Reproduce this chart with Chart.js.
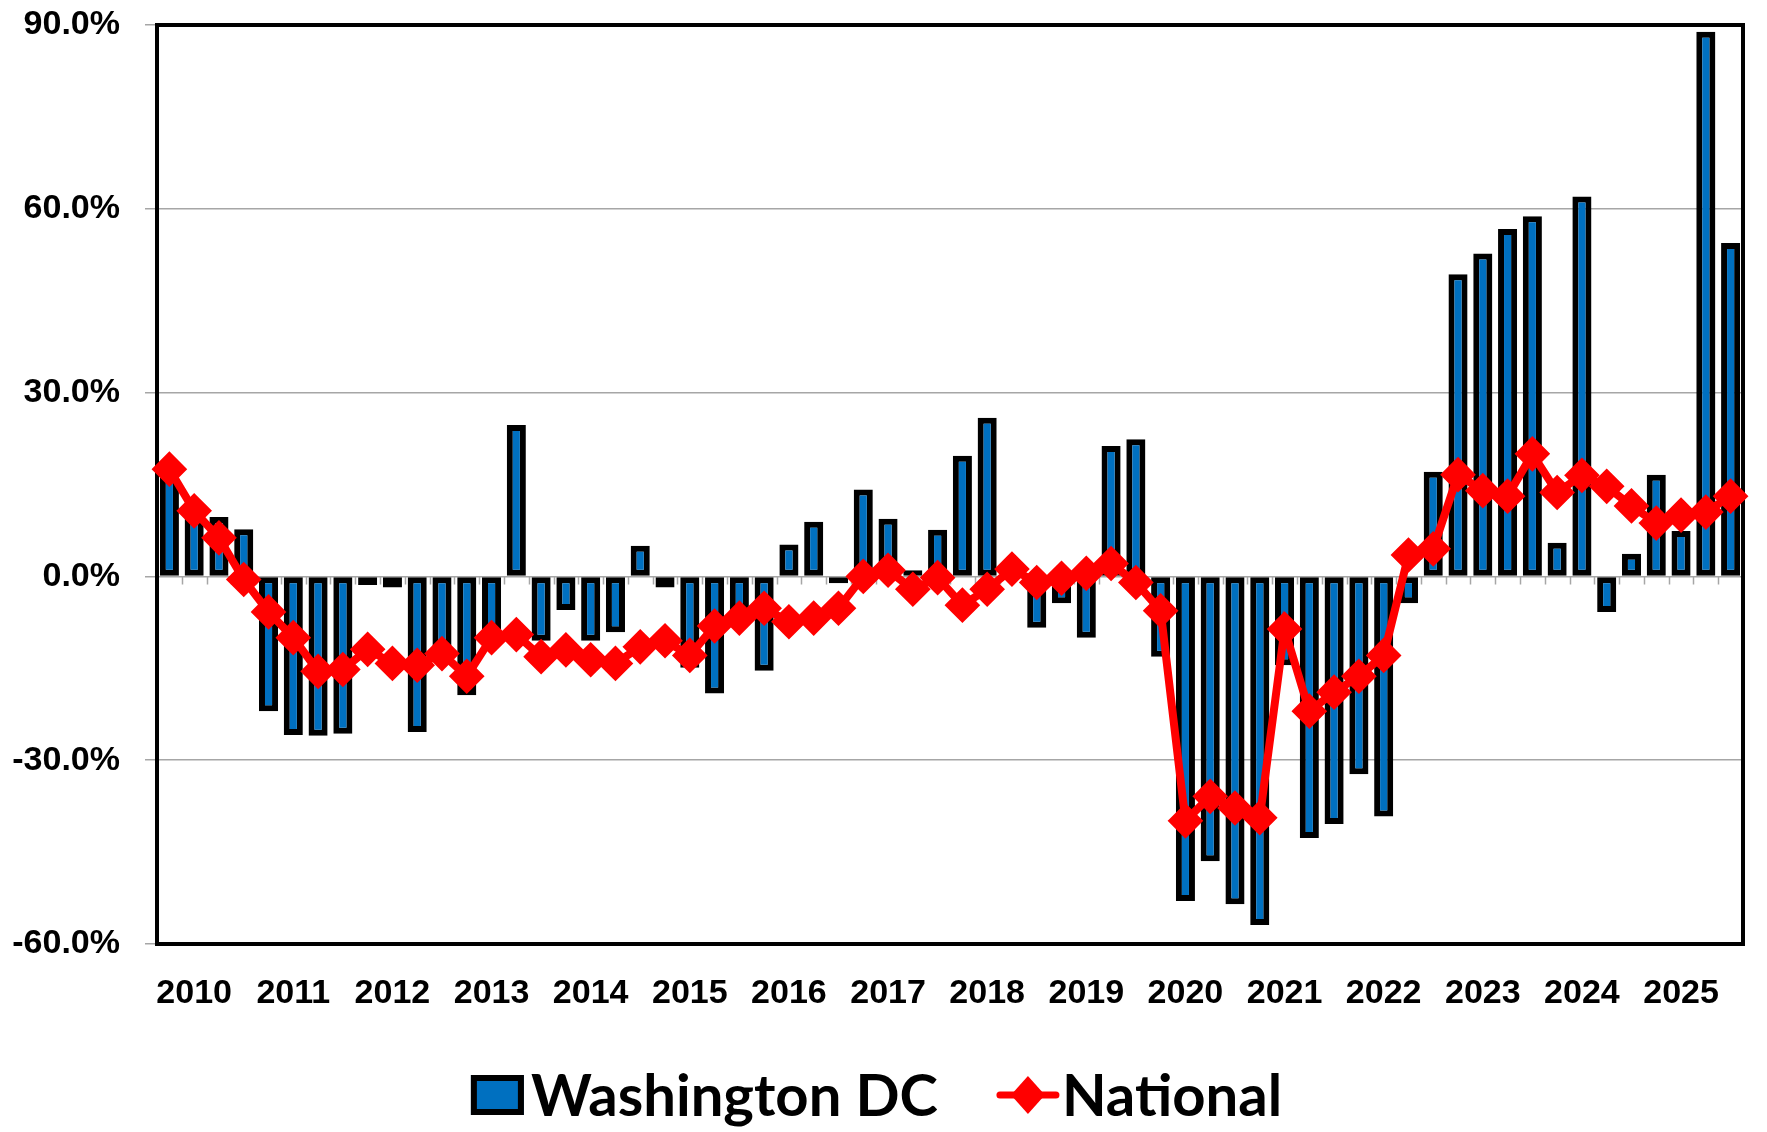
<!DOCTYPE html>
<html>
<head>
<meta charset="utf-8">
<title>Washington DC vs National</title>
<script src="https://cdn.jsdelivr.net/npm/chart.js@4.4.1/dist/chart.umd.min.js"></script>
<style>
  html, body { margin: 0; padding: 0; background: #fff; }
  #wrap { width: 1767px; height: 1132px; }
</style>
</head>
<body>
<div id="wrap"><canvas id="chart" width="1767" height="1132"></canvas></div>
<script>
// ================= Data =================
const categories = [
  '2009 Q4',
  '2010 Q1', '2010 Q2', '2010 Q3', '2010 Q4',
  '2011 Q1', '2011 Q2', '2011 Q3', '2011 Q4',
  '2012 Q1', '2012 Q2', '2012 Q3', '2012 Q4',
  '2013 Q1', '2013 Q2', '2013 Q3', '2013 Q4',
  '2014 Q1', '2014 Q2', '2014 Q3', '2014 Q4',
  '2015 Q1', '2015 Q2', '2015 Q3', '2015 Q4',
  '2016 Q1', '2016 Q2', '2016 Q3', '2016 Q4',
  '2017 Q1', '2017 Q2', '2017 Q3', '2017 Q4',
  '2018 Q1', '2018 Q2', '2018 Q3', '2018 Q4',
  '2019 Q1', '2019 Q2', '2019 Q3', '2019 Q4',
  '2020 Q1', '2020 Q2', '2020 Q3', '2020 Q4',
  '2021 Q1', '2021 Q2', '2021 Q3', '2021 Q4',
  '2022 Q1', '2022 Q2', '2022 Q3', '2022 Q4',
  '2023 Q1', '2023 Q2', '2023 Q3', '2023 Q4',
  '2024 Q1', '2024 Q2', '2024 Q3', '2024 Q4',
  '2025 Q1', '2025 Q2', '2025 Q3'
];

// Washington DC, % change
const dcValues = [
  18.0, 11.5, 9.7, 7.7, -22.0, -25.9, -26.0, -25.7,
  -1.4, -1.8, -25.4, -13.0, -19.4, -10.0, 24.7, -10.5,
  -5.5, -10.5, -9.1, 5.0, -1.8, -14.9, -19.1, -7.0,
  -15.4, 5.2, 8.9, -1.1, 14.2, 9.4, 1.0, 7.6,
  19.7, 25.9, 0.8, -8.4, -4.4, -10.0, 21.3, 22.4,
  -13.1, -53.0, -46.5, -53.5, -56.9, -14.5, -42.7, -40.4,
  -32.3, -39.2, -4.4, 17.1, 49.3, 52.7, 56.7, 58.8,
  5.5, 62.0, -5.8, 3.7, 16.6, 7.4, 88.9, 54.4
];

// National, % change
const nationalValues = [
  17.5, 10.7, 6.3, -0.5, -5.8, -10.0, -15.5, -15.2,
  -11.9, -14.2, -14.5, -12.6, -16.3, -10.0, -9.5, -13.1,
  -12.0, -13.6, -14.2, -11.5, -10.5, -12.9, -8.1, -6.8,
  -5.2, -7.4, -6.8, -5.2, 0.0, 1.0, -2.1, -0.2,
  -4.7, -2.1, 1.2, -1.0, -0.3, 0.5, 2.1, -1.0,
  -5.6, -39.9, -35.9, -37.8, -39.4, -8.6, -22.0, -18.9,
  -16.3, -12.9, 3.5, 4.5, 16.6, 14.0, 13.1, 20.0,
  13.7, 16.5, 14.7, 11.5, 8.7, 10.0, 10.5, 13.1
];

const yTicks = [-60, -30, 0, 30, 60, 90];

const DC_BLUE = '#0070C0';
const NAT_RED = '#FF0000';
const GRID_GRAY = '#a6a6a6';
const TICK_FONT = { family: '"Liberation Sans", Arial, sans-serif', size: 34, weight: 'bold' };

// ================= Plugins =================
// plot frame + small gray marks on the zero line
const framePlugin = {
  id: 'frame',
  beforeDatasetsDraw(chart) {
    const { ctx, chartArea: a, scales: { x, y } } = chart;
    const y0 = y.getPixelForValue(0);
    ctx.save();
    ctx.strokeStyle = GRID_GRAY;
    ctx.lineWidth = 1.5;
    ctx.beginPath();
    for (let i = 0; i <= categories.length; i++) {
      const px = Math.round(x.getPixelForValue(i - 0.5)) + 0.5;
      ctx.moveTo(px, y0);
      ctx.lineTo(px, y0 + 8);
    }
    ctx.stroke();

    ctx.strokeStyle = '#000';
    ctx.lineWidth = 4;
    ctx.strokeRect(a.left, a.top, a.right - a.left, a.bottom - a.top);
    ctx.restore();
  }
};

// legend under the axis: blue box for the bars, red line + diamond for the line
const legendPlugin = {
  id: 'bottomLegend',
  afterDraw(chart) {
    const { ctx } = chart;
    const dc = chart.data.datasets.find(d => d.type === 'bar');
    const nat = chart.data.datasets.find(d => d.type === 'line');
    ctx.save();
    ctx.font = 'bold 58px Lato, "Liberation Sans", sans-serif';
    ctx.textBaseline = 'alphabetic';
    const w1 = ctx.measureText(dc.label).width;
    const w2 = ctx.measureText(nat.label).width;
    const boxW = 53, boxH = 40, markW = 62;
    const total = boxW + 7 + w1 + 59 + markW + 3 + w2;
    let x = chart.width / 2 - 7 - total / 2;
    const midY = 1095, baseY = 1116;

    ctx.fillStyle = dc.backgroundColor;
    ctx.fillRect(x, midY - boxH / 2, boxW, boxH);
    ctx.strokeStyle = '#000';
    ctx.lineWidth = 6;
    ctx.strokeRect(x + 3, midY - boxH / 2 + 3, boxW - 6, boxH - 6);
    x += boxW + 7;
    ctx.fillStyle = '#000';
    ctx.fillText(dc.label, x, baseY);
    x += w1 + 59;

    ctx.strokeStyle = nat.borderColor;
    ctx.lineWidth = 7;
    ctx.lineCap = 'round';
    ctx.beginPath();
    ctx.moveTo(x + 3, midY);
    ctx.lineTo(x + markW - 3, midY);
    ctx.stroke();
    const cx = x + markW / 2;
    ctx.fillStyle = nat.borderColor;
    ctx.beginPath();
    ctx.moveTo(cx - 17, midY);
    ctx.lineTo(cx, midY - 19);
    ctx.lineTo(cx + 17, midY);
    ctx.lineTo(cx, midY + 19);
    ctx.closePath();
    ctx.fill();
    x += markW + 3;
    ctx.fillStyle = '#000';
    ctx.fillText(nat.label, x, baseY);
    ctx.restore();
  }
};

// ================= Chart =================
const ctx = document.getElementById('chart').getContext('2d');
const chart = new Chart(ctx, {
  data: {
    labels: categories,
    datasets: [
      {
        type: 'line',
        label: 'National',
        data: nationalValues,
        borderColor: NAT_RED,
        backgroundColor: NAT_RED,
        borderWidth: 8,
        tension: 0,
        pointStyle: 'rectRot',
        pointRadius: 15,
        pointBorderWidth: 4,
        pointBackgroundColor: NAT_RED,
        pointBorderColor: NAT_RED,
        clip: false,
        order: 1
      },
      {
        type: 'bar',
        label: 'Washington DC',
        data: dcValues,
        backgroundColor: DC_BLUE,
        borderColor: '#000',
        borderWidth: 6,
        borderSkipped: false,
        barPercentage: 0.77,
        categoryPercentage: 1,
        order: 2
      }
    ]
  },
  options: {
    responsive: false,
    animation: false,
    devicePixelRatio: 1,
    layout: { padding: { top: 25, right: 24, left: 0, bottom: 0 } },
    plugins: {
      legend: { display: false },
      tooltip: { enabled: false }
    },
    scales: {
      x: {
        grid: { display: false, drawTicks: false },
        border: { display: false },
        ticks: {
          autoSkip: false,
          maxRotation: 0,
          padding: 29,
          color: '#000',
          font: TICK_FONT,
          callback: (v, i) => categories[i].endsWith('Q1') ? categories[i].slice(0, 4) : ''
        },
        afterFit: (scale) => { scale.height = 188; }
      },
      y: {
        min: yTicks[0],
        max: yTicks[yTicks.length - 1],
        grid: { color: GRID_GRAY, lineWidth: 1.5, drawTicks: true, tickLength: 12, tickColor: GRID_GRAY },
        border: { display: false },
        ticks: {
          stepSize: yTicks[1] - yTicks[0],
          padding: 25,
          color: '#000',
          font: TICK_FONT,
          callback: (v) => v.toFixed(1) + '%'
        },
        afterFit: (scale) => {
          scale.width = 157;
          // label padding would push the plot top down; the layout padding handles it
          scale.paddingTop = 0;
          scale.paddingBottom = 0;
        }
      }
    }
  },
  plugins: [framePlugin, legendPlugin]
});
</script>
</body>
</html>
